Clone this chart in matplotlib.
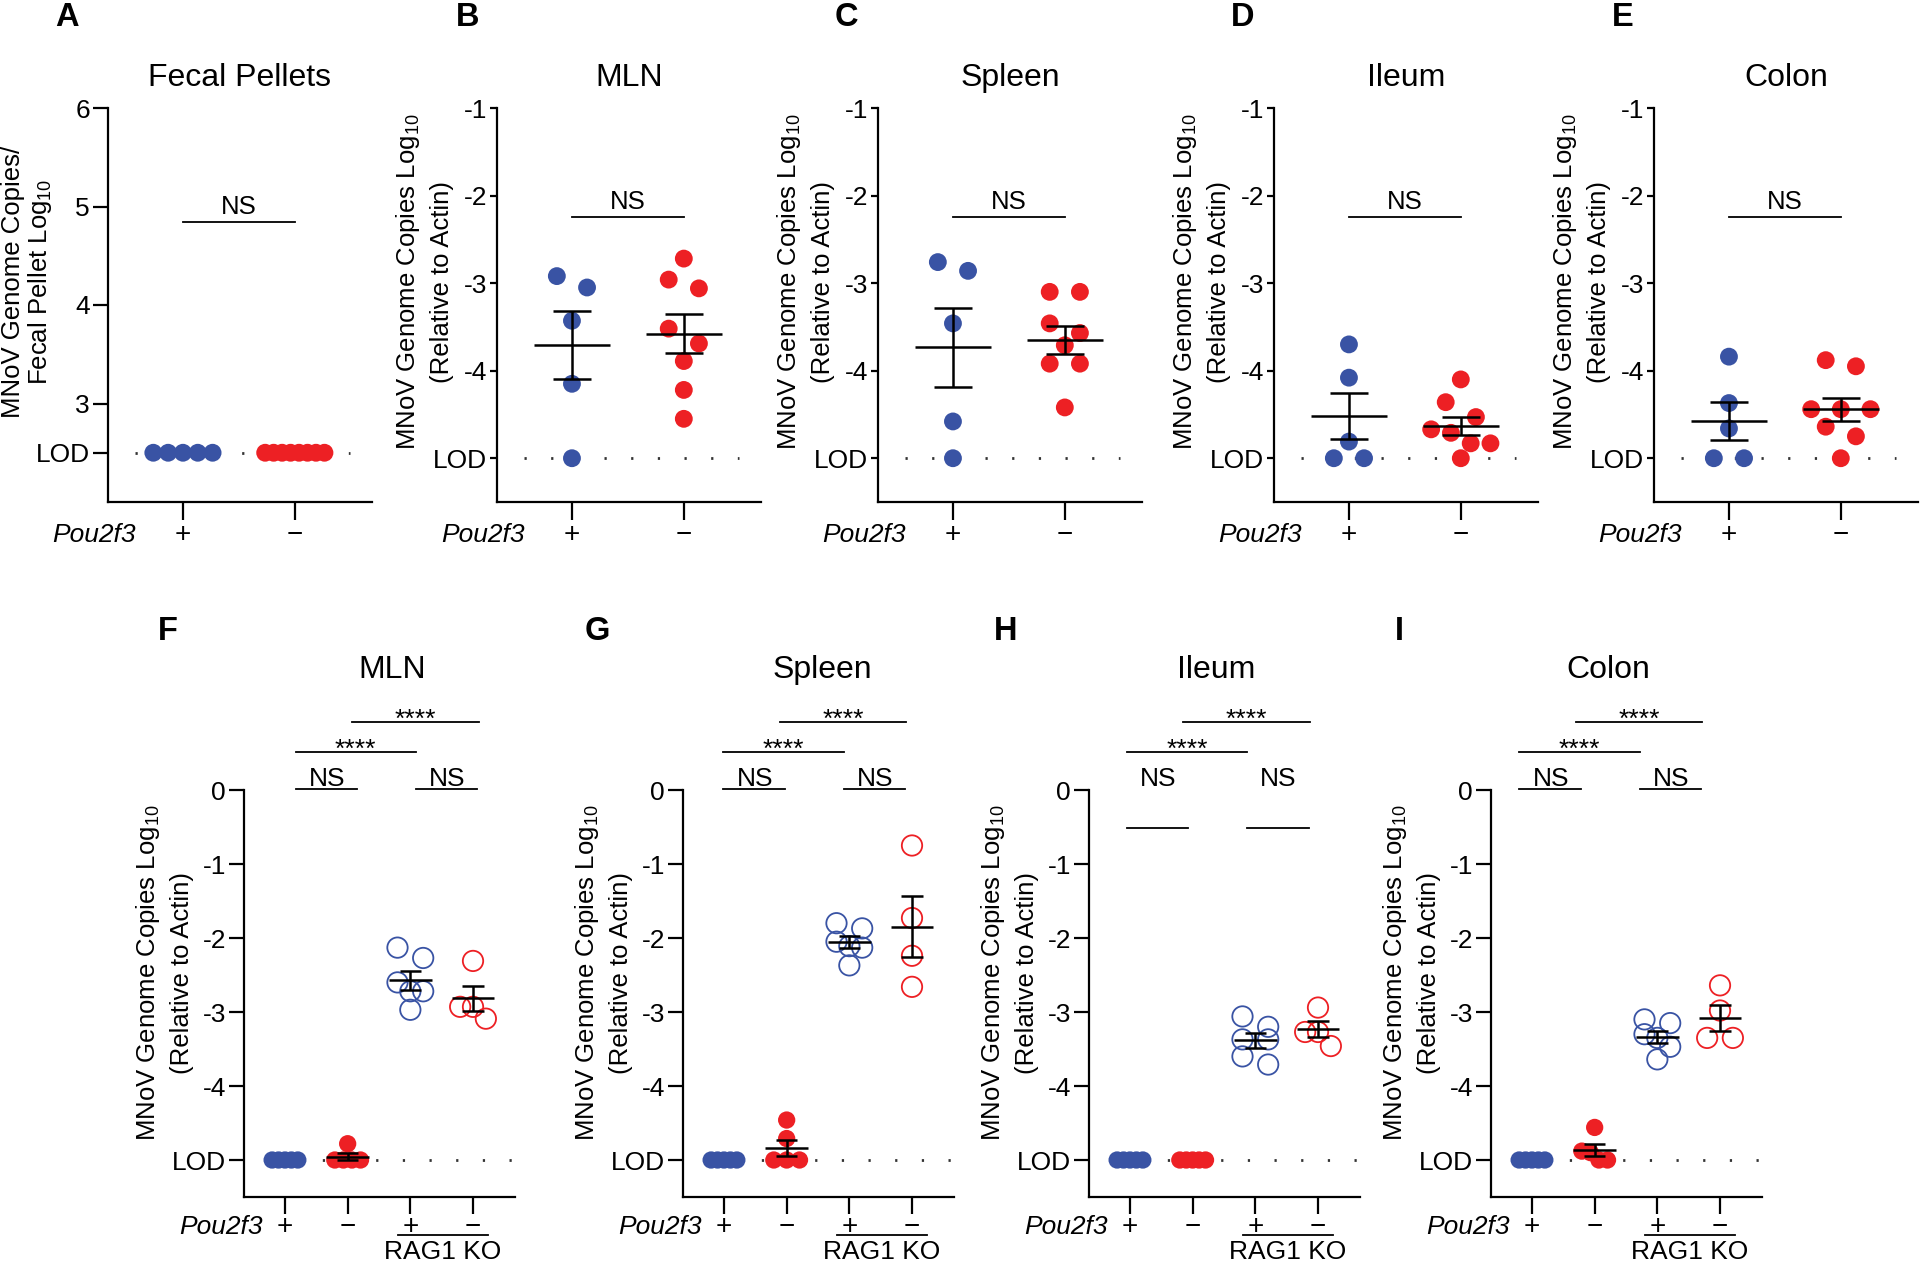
"""MNoV genome copies: Pou2f3 +/- (top row) and RAG1 KO comparison (bottom row)"""
import numpy as np
import matplotlib
matplotlib.use('Agg')
import matplotlib.pyplot as plt
from matplotlib import transforms

plt.rcParams['font.family'] = ['Liberation Sans', 'DejaVu Sans']
plt.rcParams['mathtext.default'] = 'regular'
plt.rcParams['axes.unicode_minus'] = False

FIG_W, FIG_H = 1920, 1262
BLUE = '#3953A4'
RED = '#ED2024'

# ---- top row: Pou2f3 + / -  (log10, LOD plotted at LOD) ----
fecal_plus = [2.5, 2.5, 2.5, 2.5, 2.5]
fecal_minus = [2.5, 2.5, 2.5, 2.5, 2.5, 2.5, 2.5, 2.5]
mln_plus = [-2.92, -3.05, -3.43, -4.15, -5.0]
mln_minus = [-2.72, -2.96, -3.06, -3.52, -3.69, -3.89, -4.22, -4.55]
spleen_plus = [-2.76, -2.86, -3.46, -4.58, -5.0]
spleen_minus = [-3.10, -3.10, -3.46, -3.57, -3.71, -3.92, -3.92, -4.42]
ileum_plus = [-3.70, -4.08, -4.81, -5.0, -5.0]
ileum_minus = [-4.10, -4.36, -4.53, -4.67, -4.71, -4.83, -4.83, -5.0]
colon_plus = [-3.84, -4.37, -4.66, -5.0, -5.0]
colon_minus = [-3.88, -3.95, -4.44, -4.44, -4.44, -4.64, -4.75, -5.0]

# ---- bottom row: Pou2f3 + / -, then RAG1 KO Pou2f3 + / - ----
mln2_plus = [-5.0, -5.0, -5.0, -5.0, -5.0]
mln2_minus = [-4.78, -5.0, -5.0, -5.0, -5.0]
mln2_rag_plus = [-2.13, -2.27, -2.60, -2.72, -2.72, -2.97]
mln2_rag_minus = [-2.31, -2.93, -2.93, -3.09]
spleen2_plus = [-5.0, -5.0, -5.0, -5.0, -5.0]
spleen2_minus = [-4.46, -4.71, -5.0, -5.0, -5.0]
spleen2_rag_plus = [-1.80, -1.87, -2.05, -2.11, -2.13, -2.37]
spleen2_rag_minus = [-0.75, -1.73, -2.24, -2.66]
ileum2_plus = [-5.0, -5.0, -5.0, -5.0, -5.0]
ileum2_minus = [-5.0, -5.0, -5.0, -5.0, -5.0]
ileum2_rag_plus = [-3.06, -3.20, -3.37, -3.37, -3.60, -3.71]
ileum2_rag_minus = [-2.94, -3.27, -3.27, -3.46]
colon2_plus = [-5.0, -5.0, -5.0, -5.0, -5.0]
colon2_minus = [-4.56, -4.88, -4.90, -5.0, -5.0]
colon2_rag_plus = [-3.10, -3.15, -3.30, -3.35, -3.47, -3.64]
colon2_rag_minus = [-2.64, -2.98, -3.35, -3.35]

top_titles = ['Fecal Pellets', 'MLN', 'Spleen', 'Ileum', 'Colon']
top_letters = ['A', 'B', 'C', 'D', 'E']
top_groups = [(fecal_plus, fecal_minus), (mln_plus, mln_minus), (spleen_plus, spleen_minus),
              (ileum_plus, ileum_minus), (colon_plus, colon_minus)]
bottom_titles = ['MLN', 'Spleen', 'Ileum', 'Colon']
bottom_letters = ['F', 'G', 'H', 'I']
bottom_groups = [(mln2_plus, mln2_minus, mln2_rag_plus, mln2_rag_minus),
                 (spleen2_plus, spleen2_minus, spleen2_rag_plus, spleen2_rag_minus),
                 (ileum2_plus, ileum2_minus, ileum2_rag_plus, ileum2_rag_minus),
                 (colon2_plus, colon2_minus, colon2_rag_plus, colon2_rag_minus)]
bottom_stats = [('NS', 0, 1), ('NS', 2, 3), ('****', 0, 2), ('****', 1, 3)]

fecal_yticks, fecal_ylabels = [6, 5, 4, 3, 2.5], ['6', '5', '4', '3', 'LOD']
top_yticks, top_ylabels = [-1, -2, -3, -4, -5], ['-1', '-2', '-3', '-4', 'LOD']
bottom_yticks, bottom_ylabels = [0, -1, -2, -3, -4, -5], ['0', '-1', '-2', '-3', '-4', 'LOD']
genotype = ['+', '\u2212']

# ---- layout (pixels) ----
TOP_LEFTS = [108, 497, 878, 1274, 1654]
TOP_W, TOP_Y0, TOP_Y1 = 264, 108, 502
BOT_LEFTS = [244, 683, 1089, 1491]
BOT_W, BOT_Y0, BOT_Y1 = 271, 790, 1197
TOP_LETTER_X = [67, 468, 846, 1243, 1623]
BOT_LETTER_X = [168, 597, 1006, 1399]
BOT_TITLE_X = [392, 822, 1216, 1608]
BRACKET_SHIFT = [0.17, -0.01, -0.05, -0.2]
NS_BAR_Y = [0.01, 0.01, -0.51, 0.01]


def add_axes_px(fig, left, top, right, bottom):
    return fig.add_axes([left / FIG_W, 1 - bottom / FIG_H, (right - left) / FIG_W, (bottom - top) / FIG_H])


def swarm_offsets(vals, row_thr, step, max_span):
    vals = np.asarray(vals, float)
    order = np.argsort(-vals, kind='stable')
    rows = []
    for i in order:
        if rows and vals[rows[-1][0]] - vals[i] < row_thr - 1e-9:
            rows[-1].append(i)
        else:
            rows.append([i])
    offs = np.zeros(len(vals))
    for r in rows:
        n = len(r)
        if n < 2:
            continue
        sp = min(step, max_span / (n - 1))
        for k, i in enumerate(r):
            offs[i] = (k - (n - 1) / 2) * sp
    return offs


def draw_group(ax, x0, vals, color, filled, row_thr, step, span, size):
    vals = np.asarray(vals, float)
    xs = x0 + swarm_offsets(vals, row_thr, step, span)
    if filled:
        ax.scatter(xs, vals, s=size, c=color, edgecolors='none', zorder=3, clip_on=False)
    else:
        ax.scatter(xs, vals, s=size, facecolors='none', edgecolors=color, linewidths=1.3,
                   zorder=3, clip_on=False)
    m = vals.mean()
    sem = vals.std(ddof=1) / np.sqrt(len(vals))
    if sem > 0:
        kw = dict(color='black', lw=1.8, zorder=4, solid_capstyle='butt', clip_on=False)
        ax.plot([x0 - 0.34, x0 + 0.34], [m, m], **kw)
        ax.plot([x0, x0], [m - sem, m + sem], **kw)
        ax.plot([x0 - 0.17, x0 + 0.17], [m + sem, m + sem], **kw)
        ax.plot([x0 - 0.17, x0 + 0.17], [m - sem, m - sem], **kw)


def style_axes(ax, ngroups, xlim, ylim, yticks, ylabels, ytick_len, xtick_len):
    for s in ['top', 'right']:
        ax.spines[s].set_visible(False)
    for s in ['left', 'bottom']:
        ax.spines[s].set_linewidth(1.6)
    ax.set_xlim(xlim)
    ax.set_ylim(ylim)
    ax.set_yticks(yticks)
    ax.set_yticklabels(ylabels, fontsize=19)
    ax.tick_params(axis='y', length=ytick_len, width=1.6, pad=2)
    ax.set_xticks(range(ngroups))
    ax.set_xticklabels([])
    ax.tick_params(axis='x', length=xtick_len, width=1.6)
    ax.patch.set_alpha(0)


def lod_line(ax, x0, x1, y):
    ax.plot([x0, x1], [y, y], color='#333333', lw=2, linestyle=(0, (0.8, 8.8)), zorder=1)


def plot_top_row(fig):
    for p, (plus, minus) in enumerate(top_groups):
        left = TOP_LEFTS[p]
        ax = add_axes_px(fig, left, TOP_Y0, left + TOP_W, TOP_Y1)
        h = TOP_Y1 - TOP_Y0
        if p == 0:
            ylim, lod, yt, yl, ytl = (2, 6), 2.5, fecal_yticks, fecal_ylabels, 11
            bar_y, txt_y = 4.84, 4.92
        else:
            ylim, lod, yt, yl, ytl = (-5.5, -1), -5, top_yticks, top_ylabels, 5
            bar_y, txt_y = -2.24, -2.15
        style_axes(ax, 2, (-0.67, 1.69), ylim, yt, yl, ytl, 13)
        lod_line(ax, -0.43, 1.49, lod)
        thr = 0.18 * (ylim[1] - ylim[0]) / 4.5
        draw_group(ax, 0, plus, BLUE, True, thr, 0.27, 0.53, 165)
        draw_group(ax, 1, minus, RED, True, thr, 0.27, 0.53, 165)

        ax.plot([0, 1], [bar_y, bar_y], color='black', lw=1.3, clip_on=False)
        ax.text(0.5, txt_y, 'NS', ha='center', va='baseline', fontsize=18.5)

        trans = transforms.blended_transform_factory(ax.transData, ax.transAxes)
        for g, lab in enumerate(genotype):
            ax.text(g, -40 / h, lab, ha='center', va='baseline', fontsize=20, transform=trans)
        ax.text(-0.42, -40 / h, 'Pou2f3', ha='right', va='baseline', fontsize=19,
                style='italic', transform=trans)

        if p == 0:
            lines = [('MNoV Genome Copies/', -95), ('Fecal Pellet Log$_{10}$', -68)]
        else:
            lines = [('MNoV Genome Copies Log$_{10}$', -89), ('(Relative to Actin)', -55)]
        for txt, dx in lines:
            ax.text(dx / TOP_W, 0.558, txt, rotation=90, ha='center', va='center',
                    fontsize=18.5, transform=ax.transAxes)

        fig.text((left + TOP_W / 2) / FIG_W, 1 - 86 / FIG_H, top_titles[p],
                 ha='center', va='baseline', fontsize=23)
        fig.text(TOP_LETTER_X[p] / FIG_W, 1 - 18 / FIG_H, top_letters[p],
                 ha='center', va='center', fontsize=23.5, fontweight='bold')


def plot_bottom_row(fig):
    colors = [BLUE, RED, BLUE, RED]
    for p, groups in enumerate(bottom_groups):
        left = BOT_LEFTS[p]
        ax = add_axes_px(fig, left, BOT_Y0, left + BOT_W, BOT_Y1)
        h = BOT_Y1 - BOT_Y0
        style_axes(ax, 4, (-0.654, 3.67), (-5.5, 0), bottom_yticks, bottom_ylabels, 11, 12)
        lod_line(ax, -0.25, 3.62, -5)
        for g, vals in enumerate(groups):
            draw_group(ax, g, vals, colors[g], g < 2, 0.2, 0.42, 0.41, 155 if g < 2 else 215)

        sh = BRACKET_SHIFT[p]

        def bx(g):
            return g + sh - (0.08 if g >= 2 else 0.0)

        for label, a, b in bottom_stats:
            x0, x1 = bx(a), bx(b)
            if label == 'NS':
                y = NS_BAR_Y[p]
                ax.plot([x0, x1 - 0.02], [y, y], color='black', lw=1.3, clip_on=False)
                ax.text((x0 + x1) / 2, 0.054, label, ha='center', va='baseline', fontsize=19)
            else:
                if a == 0:
                    y, ty = 0.52, 0.45
                else:
                    y, ty = 0.92, 0.855
                    x0 -= 0.1
                ax.plot([x0, x1], [y, y], color='black', lw=1.3, clip_on=False)
                ax.text((x0 + x1) / 2, ty, label, ha='center', va='baseline', fontsize=19)

        trans = transforms.blended_transform_factory(ax.transData, ax.transAxes)
        for g in range(4):
            ax.text(g, -37 / h, genotype[g % 2], ha='center', va='baseline', fontsize=20,
                    transform=trans)
        ax.text(-0.36, -37 / h, 'Pou2f3', ha='right', va='baseline', fontsize=19,
                style='italic', transform=trans)
        ax.plot([1.80, 3.24], [-38 / h, -38 / h], color='black', lw=1.3,
                transform=trans, clip_on=False)
        ax.text(2.52, -62 / h, 'RAG1 KO', ha='center', va='baseline', fontsize=19, transform=trans)

        for txt, dx in [('MNoV Genome Copies Log$_{10}$', -96), ('(Relative to Actin)', -62)]:
            ax.text(dx / BOT_W, 0.55, txt, rotation=90, ha='center', va='center',
                    fontsize=18.5, transform=ax.transAxes)

        fig.text(BOT_TITLE_X[p] / FIG_W, 1 - 678 / FIG_H, bottom_titles[p],
                 ha='center', va='baseline', fontsize=23)
        fig.text(BOT_LETTER_X[p] / FIG_W, 1 - 632 / FIG_H, bottom_letters[p],
                 ha='center', va='center', fontsize=23.5, fontweight='bold')


def main():
    fig = plt.figure(figsize=(FIG_W / 100, FIG_H / 100), dpi=100)
    plot_top_row(fig)
    plot_bottom_row(fig)
    fig.savefig('out.png', dpi=100)
    plt.close(fig)


if __name__ == '__main__':
    main()
